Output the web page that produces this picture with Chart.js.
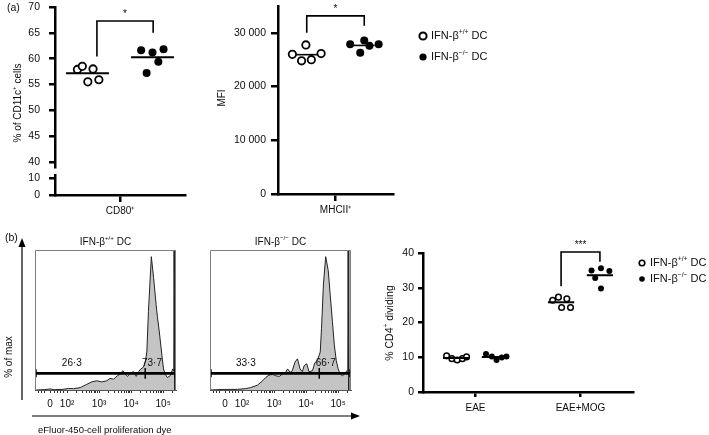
<!DOCTYPE html>
<html>
<head>
<meta charset="utf-8">
<script src="https://cdn.jsdelivr.net/npm/chart.js"></script>
<style>
  html, body { margin: 0; padding: 0; background: #fff; }
  #fig { position: relative; width: 709px; height: 435px; overflow: hidden; }
  #fig canvas { position: absolute; left: 0; top: 0; }
</style>
</head>
<body>
<div id="fig">
  <canvas id="cd80Top" width="709" height="435"></canvas>
  <canvas id="cd80Low" width="709" height="435"></canvas>
  <canvas id="mhc" width="709" height="435"></canvas>
  <canvas id="histWt" width="709" height="435"></canvas>
  <canvas id="histKo" width="709" height="435"></canvas>
  <canvas id="cd4" width="709" height="435"></canvas>
</div>
<script>
// ---- data ----
// legend names: [base, superscript, rest]
const wtName = ['IFN-β', '+/+', ' DC'];
const koName = ['IFN-β', '−/−', ' DC'];

// (a) CD80+ as % of CD11c+ cells, 5 mice per group
const cd80Wt = [57.9, 58.5, 58.0, 55.5, 55.9];
const cd80Ko = [61.6, 61.2, 61.8, 59.4, 57.2];
const cd80WtJitter = [-0.31, -0.16, 0.17, 0.01, 0.35];
const cd80KoJitter = [-0.35, 0, 0.34, 0.18, -0.18];
const cd80Ticks = [40, 45, 50, 55, 60, 65, 70];
const cd80LowTicks = [0, 10];
const cd80Sig = { x1: 1.29, x2: 3.02, y1: 60.4, y2: 65.0, top: 67.3, mark: '*' };

// (a) MHCII+ MFI
const mhcWt = [26000, 27750, 24800, 25000, 26150];
const mhcKo = [27900, 28600, 27600, 26300, 27900];
const mhcWtJitter = [-0.5, -0.03, -0.18, 0.16, 0.5];
const mhcKoJitter = [-0.49, 0, 0.18, -0.14, 0.5];
const mhcTicks = [0, 10000, 20000, 30000];
const mhcSig = { x1: 1, x2: 3, y1: 30000, y2: 31300, top: 33170, mark: '*' };

// (b) proliferation histograms (dye intensity in decades, % of max)
const histWtPos = [1.0, 1.05, 1.3, 1.47, 1.6, 1.88, 2.05, 2.2, 2.41, 2.62,
  2.77, 2.93, 3.08, 3.24, 3.34, 3.45, 3.57, 3.66, 3.74, 3.81,
  3.89, 3.97, 4.07, 4.16, 4.23, 4.30, 4.38, 4.44, 4.49, 4.54,
  4.63, 4.70, 4.78, 4.82, 4.88, 4.96, 5.01, 5.06, 5.13, 5.22,
  5.30, 5.33, 5.34, 5.355, 5.365];
const histWtPct = [0, 0, 0.3, 0.8, 0.2, 0.5, 1.2, 1.0, 1.8, 4.3,
  6.1, 6.9, 6.1, 6.9, 8.7, 8.1, 10.7, 12, 14.5, 12,
  10.2, 12.7, 13.7, 10.2, 13.7, 15.8, 17, 20.9, 28.5, 59,
  100, 84.5, 64, 55, 43.5, 26, 15.8, 12, 9.4, 10.7,
  15.8, 14, 110, 110, 0];
const histKoPos = [1.0, 1.02, 1.4, 1.85, 2.1, 2.27, 2.48, 2.64, 2.74, 2.84,
  2.95, 3.05, 3.16, 3.26, 3.36, 3.42, 3.5, 3.57, 3.65, 3.73,
  3.81, 3.88, 3.94, 4.02, 4.09, 4.2, 4.27, 4.35, 4.44, 4.48,
  4.54, 4.61, 4.69, 4.75, 4.82, 4.88, 4.94, 5.0, 5.06, 5.13,
  5.2, 5.27, 5.30, 5.31, 5.325, 5.335];
const histKoPct = [0, 0, 0.4, 0.5, 1.0, 1.8, 3.6, 6.9, 9.4, 11.2,
  11.7, 10.7, 10.2, 12, 13.2, 15.8, 13.2, 14.5, 20.9, 23.4,
  15.8, 13.7, 18.3, 19.6, 13.7, 14.5, 20.4, 22.1, 28.5, 46.3,
  79.4, 100, 89.6, 71.8, 51.4, 33.6, 22.1, 15.8, 12, 10.7,
  12, 14.5, 14, 110, 110, 0];
const histGateLevel = 12.5;
const histWtGate = [1.03, 4.44, 5.37];   // start, split, end
const histKoGate = [1.03, 4.41, 5.37];
const histWtLabels = ['26·3', '73·7'];
const histKoLabels = ['33·3', '66·7'];
const histWtLabelX = [2.15, 4.65];
const histKoLabelX = [2.12, 4.61];
const histMajorPos = [1.47, 2, 3, 4, 5];
const histMajorLabels = ['0', '10²', '10³', '10⁴', '10⁵'];
const histLinearMinor = [1.1, 1.2, 1.3, 1.6, 1.7, 1.8, 1.9];

// (b) % CD4+ dividing
const cd4Groups = ['EAE', 'EAE+MOG'];
const cd4WtEae = [10.4, 9.6, 9.2, 9.6, 10.1];
const cd4KoEae = [10.9, 10.2, 9.2, 9.9, 10.2];
const cd4WtMog = [26.4, 27.3, 26.8, 24.3, 24.3];
const cd4KoMog = [35.0, 35.6, 34.8, 32.8, 29.8];
const cd4WtEaeJitter = [-0.18, -0.08, 0.02, 0.12, 0.2];
const cd4KoEaeJitter = [-0.17, -0.06, 0.03, 0.13, 0.22];
const cd4WtMogJitter = [-0.16, -0.05, 0.11, 0.01, 0.18];
const cd4KoMogJitter = [-0.16, 0.02, 0.18, -0.09, 0.02];
const cd4Ticks = [0, 10, 20, 30, 40];
const cd4Sig = { x1: 2.63, x2: 3.37, y1: 30.4, y2: 37.5, top: 40.3, mark: '***' };

// ---- helpers ----
const FONT = "'Liberation Sans', Arial, Helvetica, sans-serif";
const INK = '#0d0d0d';
const PAGE_W = 709, PAGE_H = 435;
Chart.defaults.font.family = FONT;
Chart.defaults.color = INK;

function layoutPad(a, yw, xh) {
  return { left: a.l - yw, top: a.t, right: PAGE_W - a.r, bottom: PAGE_H - a.b - xh };
}
function zeroPad(s) { s.paddingTop = 0; s.paddingBottom = 0; s.paddingLeft = 0; s.paddingRight = 0; }
const fixW = w => s => { s.width = w; zeroPad(s); };
const fixH = h => s => { s.height = h; zeroPad(s); };

function axis(pos, min, max, ticks, o) {
  return {
    type: 'linear', position: pos, min, max,
    afterBuildTicks: s => { s.ticks = ticks.map(v => ({ value: v })); },
    afterFit: pos === 'left' ? fixW(o.w || 40) : fixH(30),
    grid: { drawOnChartArea: false, drawTicks: true, tickLength: o.tl, tickWidth: o.tw || o.lw, tickColor: o.color || '#000', color: o.color || '#000', lineWidth: o.lw },
    border: { display: true, color: o.border || '#000', width: o.bw || o.lw },
    ticks: { padding: o.pad, color: INK, font: { size: o.size || 10.5 }, autoSkip: false, maxRotation: 0, callback: o.cb || (v => String(v)) }
  };
}
const hidden = (min, max) => ({ type: 'linear', display: false, min, max });

function pts(center, jit, vals) { return vals.map((v, i) => ({ x: center + jit[i], y: v })); }
function meanSeg(center, half, vals) {
  const m = vals.reduce((a, b) => a + b, 0) / vals.length;
  return [{ x: center - half, y: m }, { x: center + half, y: m }];
}
function bracketPts(b) { return [{ x: b.x1, y: b.y1 }, { x: b.x1, y: b.top }, { x: b.x2, y: b.top }, { x: b.x2, y: b.y2 }]; }

function lineDs(data, w) {
  return { type: 'line', data, borderColor: '#000', borderWidth: w, pointRadius: 0, fill: false, tension: 0, clip: false };
}
function dotDs(label, data, open, r, bw) {
  return { type: 'scatter', label, data, clip: false, pointStyle: 'circle', pointRadius: r,
    pointBorderWidth: open ? bw : 0, pointBackgroundColor: open ? '#fff' : '#000', pointBorderColor: '#000' };
}

function drawRich(ctx, parts, x, y, size, align) {
  ctx.save();
  ctx.fillStyle = INK;
  ctx.textBaseline = 'middle';
  ctx.textAlign = 'left';
  const sup = size * 0.62;
  const segs = [[parts[0], false], [parts[1] || '', true], [parts[2] || '', false]];
  let total = 0;
  const ws = segs.map(([t, s]) => { ctx.font = (s ? sup : size) + 'px ' + FONT; const w = ctx.measureText(t).width; total += w; return w; });
  let cx = align === 'center' ? x - total / 2 : align === 'right' ? x - total : x;
  segs.forEach(([t, s], i) => {
    ctx.font = (s ? sup : size) + 'px ' + FONT;
    ctx.fillText(t, cx, s ? y - size * 0.36 : y);
    cx += ws[i];
  });
  ctx.restore();
}
function drawRichRot(ctx, parts, x, y, size) {
  ctx.save(); ctx.translate(x, y); ctx.rotate(-Math.PI / 2);
  drawRich(ctx, parts, 0, 0, size, 'center');
  ctx.restore();
}
function drawStar(chart, b, size) {
  const { ctx, scales } = chart;
  const x = scales.x.getPixelForValue((b.x1 + b.x2) / 2);
  const y = scales.y.getPixelForValue(b.top) - 10;
  ctx.save();
  ctx.font = size + 'px ' + FONT; ctx.fillStyle = INK;
  ctx.textAlign = 'center'; ctx.textBaseline = 'alphabetic';
  ctx.fillText(b.mark, x, y + size * 0.57);
  ctx.restore();
}
function drawLegend(ctx, x, y, dy, r, bw, gap, size) {
  ctx.save();
  ctx.beginPath(); ctx.arc(x, y, r, 0, Math.PI * 2);
  ctx.fillStyle = '#fff'; ctx.fill(); ctx.lineWidth = bw; ctx.strokeStyle = '#000'; ctx.stroke();
  ctx.beginPath(); ctx.arc(x, y + dy, r, 0, Math.PI * 2);
  ctx.fillStyle = '#000'; ctx.fill();
  ctx.restore();
  drawRich(ctx, wtName, x + gap, y, size, 'left');
  drawRich(ctx, koName, x + gap, y + dy, size, 'left');
}
function plainText(ctx, t, x, y, size, align) {
  ctx.save(); ctx.font = size + 'px ' + FONT; ctx.fillStyle = INK;
  ctx.textAlign = align || 'left'; ctx.textBaseline = 'middle';
  ctx.fillText(t, x, y); ctx.restore();
}
function arrowHead(ctx, tx, ty, dir) {
  ctx.beginPath();
  if (dir === 'up') { ctx.moveTo(tx, ty); ctx.lineTo(tx - 3.5, ty + 9); ctx.lineTo(tx + 3.5, ty + 9); }
  else { ctx.moveTo(tx, ty); ctx.lineTo(tx - 9, ty - 3.5); ctx.lineTo(tx - 9, ty + 3.5); }
  ctx.closePath(); ctx.fill();
}

function baseOptions(pad, scales) {
  return {
    responsive: false, animation: false, events: [],
    layout: { padding: pad }, scales,
    plugins: { legend: { display: false }, tooltip: { enabled: false } }
  };
}
const mfiFmt = v => v === 0 ? '0' : String(v / 1000) + ' 000';

// ---- (a) CD80+, broken axis: upper part ----
const cd80TopArea = { l: 55, r: 185, t: 7, b: 167 };
new Chart(document.getElementById('cd80Top'), {
  type: 'scatter',
  data: { datasets: [
    lineDs(meanSeg(1, 0.66, cd80Wt), 2),
    lineDs(meanSeg(3, 0.66, cd80Ko), 2),
    lineDs(bracketPts(cd80Sig), 1.6),
    dotDs('wt', pts(1, cd80WtJitter, cd80Wt), true, 3.7, 1.8),
    dotDs('ko', pts(3, cd80KoJitter, cd80Ko), false, 4, 0)
  ] },
  options: baseOptions(layoutPad(cd80TopArea, 50, 0), {
    x: hidden(0, 4),
    y: axis('left', 39, 70, cd80Ticks, { tl: 6, lw: 2.5, pad: 9, w: 50 })
  }),
  plugins: [{ id: 'cd80Deco', afterDraw(chart) {
    const ctx = chart.ctx;
    plainText(ctx, '(a)', 7, 8, 10.5);
    drawRichRot(ctx, ['% of CD11c', '+', ' cells'], 18, 103, 10);
    drawStar(chart, cd80Sig, 10);
  } }]
});

// ---- (a) CD80+, broken axis: lower part ----
const cd80LowArea = { l: 55, r: 185, t: 175.5, b: 195 };
new Chart(document.getElementById('cd80Low'), {
  type: 'scatter',
  data: { datasets: [] },
  options: baseOptions(layoutPad(cd80LowArea, 50, 30), {
    x: axis('bottom', 0, 4, [2], { tl: 7, lw: 2.5, pad: 3, size: 10, cb: () => 'CD80⁺' }),
    y: axis('left', 0, 11.5, cd80LowTicks, { tl: 6, lw: 2.5, pad: 9, w: 50 })
  })
});

// ---- (a) MHCII+ MFI ----
const mhcArea = { l: 278, r: 393, t: 6, b: 194 };
new Chart(document.getElementById('mhc'), {
  type: 'scatter',
  data: { datasets: [
    lineDs(meanSeg(1, 0.38, mhcWt), 1.6),
    lineDs(meanSeg(3, 0.36, mhcKo), 1.6),
    lineDs(bracketPts(mhcSig), 1.6),
    dotDs('wt', pts(1, mhcWtJitter, mhcWt), true, 3.7, 1.8),
    dotDs('ko', pts(3, mhcKoJitter, mhcKo), false, 4, 0)
  ] },
  options: baseOptions(layoutPad(mhcArea, 70, 30), {
    x: axis('bottom', 0, 4, [2], { tl: 7, lw: 2.5, pad: 3, size: 10, cb: () => 'MHCII⁺' }),
    y: axis('left', 0, 35000, mhcTicks, { tl: 7, lw: 2.5, pad: 5, cb: mfiFmt, w: 70 })
  }),
  plugins: [{ id: 'mhcDeco', afterDraw(chart) {
    const ctx = chart.ctx;
    drawRichRot(ctx, ['MFI'], 222, 98, 10);
    drawStar(chart, mhcSig, 10);
    drawLegend(ctx, 423, 36, 21, 3.6, 2, 8, 11);
  } }]
});

// ---- (b) histograms ----
const histMinor = [2, 3, 4].flatMap(d => [2, 3, 4, 5, 6, 7, 8, 9].map(k => d + Math.log10(k)));
const histTicks = histLinearMinor.concat(histMajorPos, histMinor, [5 + Math.log10(2)]).sort((a, b) => a - b);
function histLabel(v) {
  const i = histMajorPos.findIndex(p => Math.abs(p - v) < 1e-6);
  return i < 0 ? '' : histMajorLabels[i];
}
function histChart(id, area, pos, pct, gate, labels, labelX, title, extra) {
  const trace = pos.map((u, i) => ({ x: u, y: pct[i] }));
  const gateTicks = [
    { x: gate[0], y: histGateLevel - 3 }, { x: gate[0], y: histGateLevel + 3 }, { x: gate[0], y: null },
    { x: gate[1], y: histGateLevel - 4 }, { x: gate[1], y: histGateLevel + 4 }, { x: gate[1], y: null },
    { x: gate[2], y: histGateLevel - 3 }, { x: gate[2], y: histGateLevel + 3 }
  ];
  return new Chart(document.getElementById(id), {
    type: 'scatter',
    data: { datasets: [
      { type: 'line', data: gateTicks, borderColor: '#000', borderWidth: 1.5, pointRadius: 0, spanGaps: false, tension: 0, fill: false, clip: false },
      lineDs([{ x: gate[0], y: histGateLevel }, { x: gate[2], y: histGateLevel }], 2.6),
      { type: 'line', data: trace, borderColor: '#222', borderWidth: 1, backgroundColor: '#c4c4c4',
        fill: 'origin', pointRadius: 0, tension: 0 }
    ] },
    options: baseOptions(layoutPad(area, 0, 30), {
      x: axis('bottom', 1.0, 5.4, histTicks, { tl: 3, lw: 1, bw: 1, color: '#333', border: '#555', pad: 5, size: 10, cb: (v, i, t) => histLabel(t[i].value) }),
      y: hidden(0, 105)
    }),
    plugins: [{ id: id + 'Deco', afterDraw(chart) {
      const { ctx, chartArea: a, scales } = chart;
      ctx.save();
      ctx.strokeStyle = '#7d7d7d'; ctx.lineWidth = 1;
      ctx.beginPath();
      ctx.moveTo(a.left + 0.5, a.bottom); ctx.lineTo(a.left + 0.5, a.top + 0.5);
      ctx.lineTo(a.right - 0.5, a.top + 0.5); ctx.lineTo(a.right - 0.5, a.bottom);
      ctx.stroke();
      ctx.restore();
      labels.forEach((t, i) => plainText(ctx, t, scales.x.getPixelForValue(labelX[i]), scales.y.getPixelForValue(20), 10, 'center'));
      drawRich(ctx, title, (a.left + a.right) / 2, 242, 10, 'center');
      if (extra) extra(ctx);
    } }]
  });
}
histChart('histWt', { l: 35, r: 176, t: 250, b: 390 }, histWtPos, histWtPct, histWtGate, histWtLabels, histWtLabelX, wtName, ctx => {
  plainText(ctx, '(b)', 5, 238, 10.5);
  ctx.save();
  ctx.strokeStyle = '#000'; ctx.fillStyle = '#000'; ctx.lineWidth = 1.2;
  ctx.beginPath(); ctx.moveTo(22, 400); ctx.lineTo(22, 244); ctx.stroke();
  arrowHead(ctx, 22, 238, 'up');
  ctx.beginPath(); ctx.moveTo(32, 416); ctx.lineTo(354, 416); ctx.stroke();
  arrowHead(ctx, 360, 416, 'right');
  ctx.restore();
  drawRichRot(ctx, ['% of max'], 9, 357, 10);
  plainText(ctx, 'eFluor-450-cell proliferation dye', 38, 430, 9.5);
});
histChart('histKo', { l: 210, r: 351, t: 250, b: 390 }, histKoPos, histKoPct, histKoGate, histKoLabels, histKoLabelX, koName);

// ---- (b) % CD4+ dividing ----
const cd4Area = { l: 423, r: 633, t: 253, b: 392 };
new Chart(document.getElementById('cd4'), {
  type: 'scatter',
  data: { datasets: [
    lineDs(meanSeg(0.63, 0.25, cd4WtEae), 2),
    lineDs(meanSeg(1.37, 0.25, cd4KoEae), 2),
    lineDs(meanSeg(2.63, 0.25, cd4WtMog), 2),
    lineDs(meanSeg(3.37, 0.25, cd4KoMog), 2),
    lineDs(bracketPts(cd4Sig), 1.6),
    dotDs('wt', pts(0.63, cd4WtEaeJitter, cd4WtEae), true, 2.8, 1.5),
    dotDs('ko', pts(1.37, cd4KoEaeJitter, cd4KoEae), false, 3, 0),
    dotDs('wt', pts(2.63, cd4WtMogJitter, cd4WtMog), true, 2.8, 1.5),
    dotDs('ko', pts(3.37, cd4KoMogJitter, cd4KoMog), false, 3, 0)
  ] },
  options: baseOptions(layoutPad(cd4Area, 40, 30), {
    x: axis('bottom', 0, 4, [1, 3], { tl: 5, lw: 2.5, pad: 5, size: 10, cb: (v, i) => cd4Groups[i] }),
    y: axis('left', 0, 40, cd4Ticks, { tl: 5, lw: 2.5, pad: 4 })
  }),
  plugins: [{ id: 'cd4Deco', afterDraw(chart) {
    const ctx = chart.ctx;
    drawRichRot(ctx, ['% CD4', '+', ' dividing'], 390, 323, 10.5);
    drawStar(chart, cd4Sig, 10);
    drawLegend(ctx, 642, 263, 16, 2.8, 1.6, 8, 11);
  } }]
});
</script>
</body>
</html>
